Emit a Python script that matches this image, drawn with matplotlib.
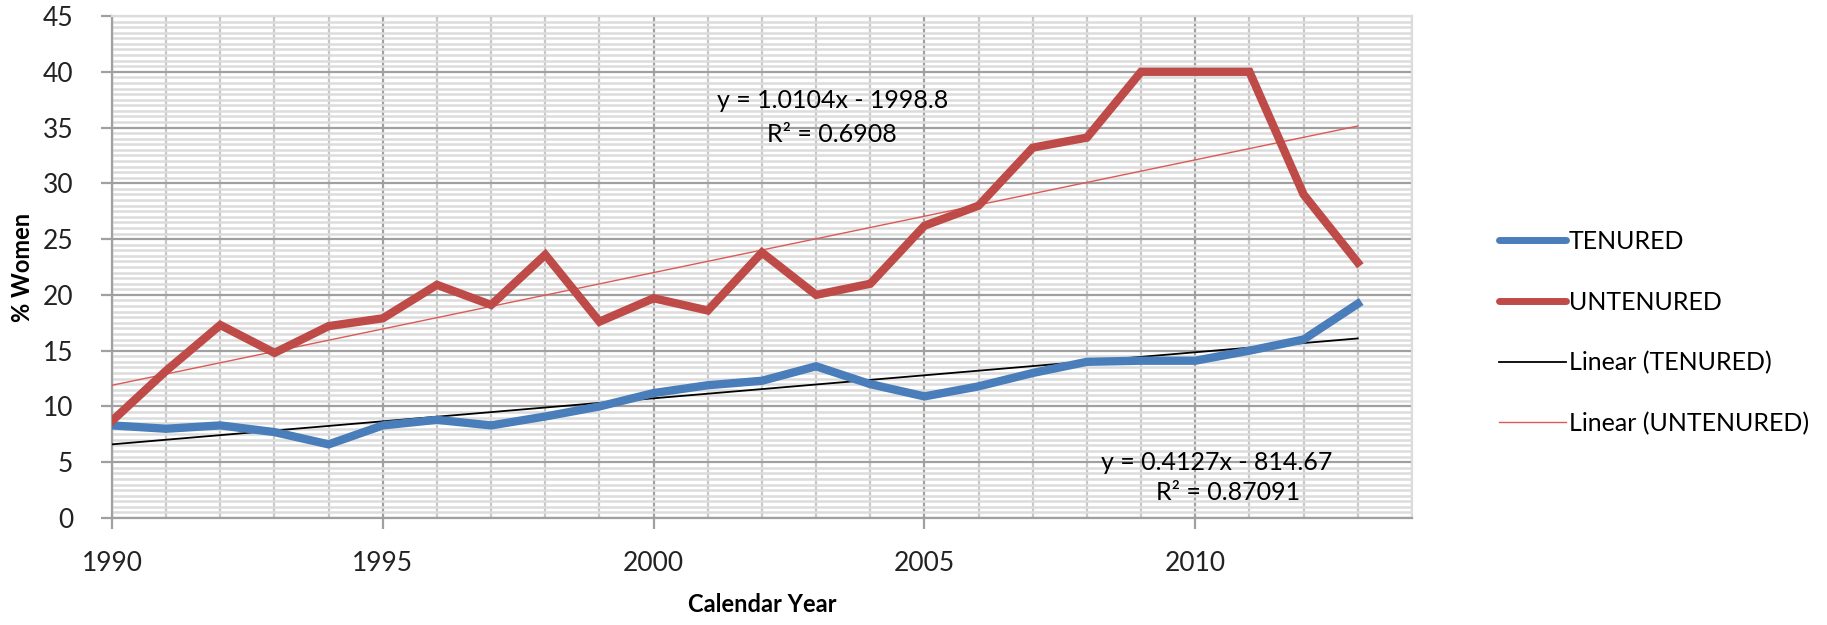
import numpy as np
import matplotlib.pyplot as plt
from matplotlib.ticker import MultipleLocator

years = list(range(1990, 2014))
tenured = [8.3, 8.0, 8.3, 7.7, 6.6, 8.3, 8.8, 8.3, 9.1, 10.0, 11.2, 11.9,
           12.3, 13.6, 12.0, 10.9, 11.8, 13.0, 14.0, 14.1, 14.1, 15.0, 16.0, 19.2]
untenured = [8.7, 13.2, 17.3, 14.8, 17.2, 17.9, 20.9, 19.1, 23.6, 17.6, 19.7, 18.6,
             23.8, 20.0, 21.0, 26.2, 28.0, 33.2, 34.1, 40.0, 40.0, 40.0, 29.0, 22.9]

# fitted trend lines (slope, intercept, R^2)
fit_ten = (0.4127, -814.67, "0.87091")
fit_unt = (1.0104, -1998.8, "0.6908")

plt.rcParams['font.family'] = ['Lato', 'DejaVu Sans']

fig = plt.figure(figsize=(18.27, 6.25), dpi=100)
ax = fig.add_axes([0.0613, 0.1712, 0.7115, 0.8032])

x = np.array(years)
ax.plot(x, x * fit_ten[0] + fit_ten[1], color='black', lw=1.3, zorder=3,
        label='Linear (TENURED)')
ax.plot(x, x * fit_unt[0] + fit_unt[1], color='#dc5a56', lw=1.0, zorder=3,
        label='Linear (UNTENURED)')
ax.plot(years, tenured, color='#4a7ebb', lw=6, solid_joinstyle='miter', zorder=4,
        label='TENURED')
ax.plot(years, untenured, color='#be4b48', lw=6, solid_joinstyle='miter', zorder=4,
        label='UNTENURED')

ax.set_xlim(1990, 2014)
ax.set_ylim(0, 45)
ax.xaxis.set_minor_locator(MultipleLocator(1))
ax.yaxis.set_major_locator(MultipleLocator(5))
ax.yaxis.set_minor_locator(MultipleLocator(0.5))
ax.set_xticks([1990, 1995, 2000, 2005, 2010])

ax.grid(True, which='major', axis='both', color='#a0a0a0', lw=1.6, zorder=1)
ax.grid(True, which='minor', axis='y', color='#dcdcdc', lw=1.8, zorder=0)
ax.grid(True, which='minor', axis='x', color='#c8c8c8', lw=1.6, zorder=0)
ax.set_axisbelow(True)

for side in ['top', 'right']:
    ax.spines[side].set_color('#dcdcdc')
    ax.spines[side].set_linewidth(1.6)
for side in ['left', 'bottom']:
    ax.spines[side].set_color('#a0a0a0')
    ax.spines[side].set_linewidth(1.6)

ax.tick_params(which='major', length=8, width=1.6, color='#a0a0a0', labelsize=19,
               labelcolor='#222222')
ax.tick_params(which='minor', length=0)
ax.tick_params(axis='x', pad=16)
ax.tick_params(axis='y', pad=20)

ax.set_xlabel('Calendar Year', fontsize=17, fontweight='bold', labelpad=12)
ax.set_ylabel('% Women', fontsize=17, fontweight='bold', labelpad=6)

ax.text(2003.3, 37.4, f"y = {fit_unt[0]}x - {abs(fit_unt[1])}", ha='center', va='center', fontsize=18)
ax.text(2003.3, 34.4, f"R² = {fit_unt[2]}", ha='center', va='center', fontsize=18)
ax.text(2010.4, 5.0, f"y = {fit_ten[0]}x - {abs(fit_ten[1])}", ha='center', va='center', fontsize=18)
ax.text(2010.6, 2.3, f"R² = {fit_ten[2]}", ha='center', va='center', fontsize=18)

handles, labels = ax.get_legend_handles_labels()
order = [2, 3, 0, 1]
leg = fig.legend([handles[i] for i in order], [labels[i] for i in order],
                 loc='upper left', bbox_to_anchor=(0.808, 0.668), frameon=False,
                 handlelength=2.7, handletextpad=0.1, labelspacing=1.5,
                 prop={'size': 18})
for h in leg.legend_handles[:2]:
    h.set_solid_capstyle('round')
    h.set_linewidth(5)

plt.savefig('out.png', dpi=100)
